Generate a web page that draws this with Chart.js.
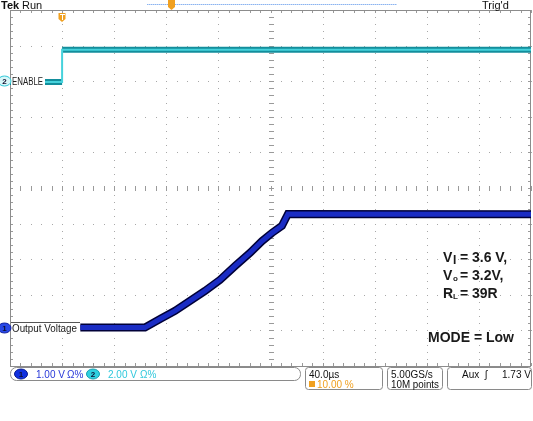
<!DOCTYPE html>
<html>
<head>
<meta charset="utf-8">
<script src="https://cdn.jsdelivr.net/npm/chart.js@4.4.0/dist/chart.umd.min.js"></script>
<style>
html,body{margin:0;padding:0;background:#fff;}
#wrap{width:533px;height:421px;}
</style>
</head>
<body>
<div id="wrap"><canvas id="scope" width="533" height="421"></canvas></div>
<script>
// time in µs, 40 µs/div, trigger at 10 %
var enableTime = [-40, 0, 0, 360];
var enableVolts = [-0.05, -0.05, 1.77, 1.77];

var outTime = [14, 63.6, 75.2, 86.7, 98.2, 109.7, 121.2, 132.8, 144.3, 153.5, 161.2, 168.8, 173.4, 360];
var outVolts = [0.08, 0.08, 0.32, 0.55, 0.83, 1.11, 1.42, 1.81, 2.18, 2.51, 2.74, 2.94, 3.27, 3.26];

var timeDivs = [-40, 0, 40, 80, 120, 160, 200, 240, 280, 320, 360];
var ch1Divs = [-1, 0, 1, 2, 3, 4, 5, 6, 7, 8, 9]; // 1.00 V/div
var ch2Range = [-16, 4];                          // 2.00 V/div

function toPoints(xs, ys){
  var pts = [];
  for(var i=0;i<xs.length;i++){ pts.push({x: xs[i], y: ys[i]}); }
  return pts;
}

function isVertical(ctx){
  return ctx.p0.parsed.x === ctx.p1.parsed.x;
}

var graticule = {
  id: 'graticule',
  beforeDatasetsDraw: function(chart){
    var ctx = chart.ctx, a = chart.chartArea;
    var xs = chart.scales.x, ys = chart.scales.y;
    ctx.save();
    ctx.fillStyle = '#a8a8a8';
    var xMin = timeDivs[0], xMax = timeDivs[timeDivs.length-1];
    var yMin = ch1Divs[0], yMax = ch1Divs[ch1Divs.length-1];
    var xc = xs.getPixelForValue(160), yc = ys.getPixelForValue(4);
    var t, v, px, py;
    // dotted vertical lines
    for(var i=1;i<timeDivs.length-1;i++){
      px = Math.round(xs.getPixelForValue(timeDivs[i]));
      for(v=yMin;v<=yMax+0.001;v+=0.2){
        py = Math.round(ys.getPixelForValue(v));
        ctx.fillRect(px, py, 1, 1);
      }
    }
    // dotted horizontal lines
    for(var j=1;j<ch1Divs.length-1;j++){
      py = Math.round(ys.getPixelForValue(ch1Divs[j]));
      for(t=xMin;t<=xMax+0.001;t+=8){
        px = Math.round(xs.getPixelForValue(t));
        ctx.fillRect(px, py, 1, 1);
      }
    }
    // ticks on center cross and border
    ctx.fillStyle = '#9a9a9a';
    for(v=yMin;v<=yMax+0.001;v+=0.2){
      py = Math.round(ys.getPixelForValue(v));
      ctx.fillRect(Math.round(xc)-2, py, 5, 1);
      ctx.fillRect(Math.round(a.left), py, 3, 1);
      ctx.fillRect(Math.round(a.right)-3, py, 3, 1);
    }
    for(t=xMin;t<=xMax+0.001;t+=8){
      px = Math.round(xs.getPixelForValue(t));
      ctx.fillRect(px, Math.round(yc)-2, 1, 5);
      ctx.fillRect(px, Math.round(a.top), 1, 3);
      ctx.fillRect(px, Math.round(a.bottom)-3, 1, 3);
    }
    ctx.strokeStyle = '#8c8c8c';
    ctx.lineWidth = 1;
    ctx.strokeRect(Math.round(a.left)+0.5, Math.round(a.top)+0.5, Math.round(a.right-a.left)-1, Math.round(a.bottom-a.top));
    ctx.restore();
  }
};

function roundBox(ctx, x, y, w, h, r){
  ctx.beginPath();
  ctx.moveTo(x+r, y);
  ctx.lineTo(x+w-r, y);
  ctx.arcTo(x+w, y, x+w, y+r, r);
  ctx.lineTo(x+w, y+h-r);
  ctx.arcTo(x+w, y+h, x+w-r, y+h, r);
  ctx.lineTo(x+r, y+h);
  ctx.arcTo(x, y+h, x, y+h-r, r);
  ctx.lineTo(x, y+r);
  ctx.arcTo(x, y, x+r, y, r);
  ctx.closePath();
  ctx.fillStyle = '#fff';
  ctx.fill();
  ctx.strokeStyle = '#8a8a8a';
  ctx.lineWidth = 1;
  ctx.stroke();
}

function badge(ctx, x, y, fill, stroke, txt){
  ctx.beginPath();
  ctx.ellipse(x, y, 6.5, 5, 0, 0, Math.PI*2);
  ctx.fillStyle = fill;
  ctx.fill();
  ctx.strokeStyle = stroke;
  ctx.lineWidth = 1;
  ctx.stroke();
  ctx.fillStyle = '#101030';
  ctx.font = 'bold 8px "Liberation Sans"';
  ctx.textAlign = 'center';
  ctx.textBaseline = 'middle';
  ctx.fillText(txt, x, y+0.5);
  ctx.textAlign = 'left';
  ctx.textBaseline = 'alphabetic';
}

var overlay = {
  id: 'overlay',
  afterDatasetsDraw: function(chart){
    var ctx = chart.ctx, a = chart.chartArea;
    var xs = chart.scales.x, y1 = chart.scales.y, y2 = chart.scales.y2;
    ctx.save();

    // trace labels
    var g2 = Math.round(y2.getPixelForValue(0));
    var g1 = Math.round(y1.getPixelForValue(0)) - 2;
    ctx.fillStyle = '#fff';
    ctx.fillRect(a.left+1, g2-6, 34, 12);
    ctx.fillRect(a.left+1, g1-6, 69, 12);
    ctx.fillStyle = '#555';
    ctx.fillRect(a.left+1, g1-6, 69, 1);
    ctx.fillStyle = '#202020';
    ctx.font = '10px "Liberation Sans"';
    ctx.fillText('ENABLE', a.left+2, g2+4, 31);
    ctx.fillText('Output Voltage', a.left+2, g1+4, 65);

    // channel ground markers
    badge(ctx, 4.5, g2, '#d8f6f8', '#30c8d8', '2');
    badge(ctx, 4.5, g1, '#2848e8', '#1020a0', '1');

    // trigger marker
    var tx = Math.round(xs.getPixelForValue(0));
    ctx.fillStyle = '#f0a020';
    ctx.beginPath();
    ctx.moveTo(tx-3.5, 13); ctx.lineTo(tx+3.5, 13); ctx.lineTo(tx+3.5, 19);
    ctx.lineTo(tx, 22); ctx.lineTo(tx-3.5, 19); ctx.closePath(); ctx.fill();
    ctx.fillStyle = '#fff';
    ctx.fillRect(tx-2, 14, 5, 1); ctx.fillRect(tx, 14, 1, 6);

    // annotation text
    ctx.fillStyle = '#1a1a1a';
    var big = 'bold 14px "Liberation Sans"', small = 'bold 8px "Liberation Sans"';
    ctx.font = big; ctx.fillText('V', 443, 262);
    ctx.font = 'bold 12px "Liberation Sans"'; ctx.fillText('I', 453, 264);
    ctx.font = big; ctx.fillText(' = 3.6 V,', 456, 262);
    ctx.font = big; ctx.fillText('V', 443, 280);
    ctx.font = small; ctx.fillText('o', 453, 281);
    ctx.font = big; ctx.fillText(' = 3.2V,', 456, 280);
    ctx.font = big; ctx.fillText('R', 443, 298);
    ctx.font = small; ctx.fillText('L', 453, 299);
    ctx.font = big; ctx.fillText(' = 39R', 456, 298);
    ctx.font = big; ctx.fillText('MODE = Low', 428, 342);
    ctx.restore();
  },
  afterDraw: function(chart){
    var ctx = chart.ctx;
    ctx.save();
    // header
    ctx.fillStyle = '#111';
    ctx.font = 'bold 11px "Liberation Sans"';
    ctx.fillText('Tek', 1, 9);
    ctx.font = '11px "Liberation Sans"';
    ctx.fillText('Run', 22, 9);
    ctx.fillText("Trig'd", 482, 9);
    ctx.fillStyle = '#8cb4f0';
    for(var x=147;x<397;x+=2){ ctx.fillRect(x, 4, 1.5, 1); }
    ctx.fillStyle = '#f0a020';
    ctx.fillRect(168, 0, 7, 7);
    ctx.beginPath(); ctx.moveTo(168, 7); ctx.lineTo(175, 7); ctx.lineTo(171.5, 10); ctx.closePath(); ctx.fill();

    // status bar
    roundBox(ctx, 10.5, 367.5, 290, 13, 6);
    roundBox(ctx, 305.5, 367.5, 77, 22, 3);
    roundBox(ctx, 387.5, 367.5, 55, 22, 3);
    roundBox(ctx, 447.5, 367.5, 84, 22, 3);

    badge(ctx, 21, 374, '#1030e0', '#0a1c90', '1');
    badge(ctx, 93, 374, '#30d0e0', '#18a0b0', '2');
    ctx.font = '10px "Liberation Sans"';
    ctx.fillStyle = '#2838d8';
    ctx.fillText('1.00 V', 36, 378);
    ctx.fillText('\u03a9%', 67, 378);
    ctx.fillStyle = '#30c8dc';
    ctx.fillText('2.00 V', 108, 378);
    ctx.fillText('\u03a9%', 140, 378);

    ctx.fillStyle = '#111';
    ctx.fillText('40.0\u00b5s', 309, 378);
    ctx.fillText('5.00GS/s', 391, 378);
    ctx.fillText('10M points', 391, 388, 48);
    ctx.fillText('Aux', 462, 378);
    ctx.fillText('\u0283', 485, 378);
    ctx.fillText('1.73 V', 502, 378);
    ctx.fillStyle = '#f0a020';
    ctx.fillRect(309, 381, 6, 6);
    ctx.fillText('10.00 %', 317, 388);
    ctx.restore();
  }
};

var ctx = document.getElementById('scope').getContext('2d');
var scopeChart = new Chart(ctx, {
  type: 'line',
  data: {
    datasets: [{
      label: 'ENABLE',
      data: toPoints(enableTime, enableVolts),
      yAxisID: 'y2',
      borderColor: '#138e9c',
      borderWidth: 6,
      pointRadius: 0,
      segment: {
        borderColor: function(c){ return isVertical(c) ? 'rgba(0,0,0,0)' : undefined; }
      },
      order: 4
    }, {
      label: 'ENABLE hi',
      data: toPoints(enableTime, enableVolts),
      yAxisID: 'y2',
      borderColor: '#46d2dc',
      borderWidth: 2,
      pointRadius: 0,
      order: 3
    }, {
      label: 'Output Voltage edge',
      data: toPoints(outTime, outVolts),
      yAxisID: 'y',
      borderColor: '#000038',
      borderWidth: 8,
      pointRadius: 0,
      order: 2
    }, {
      label: 'Output Voltage',
      data: toPoints(outTime, outVolts),
      yAxisID: 'y',
      borderColor: '#1a2cc4',
      borderWidth: 5,
      pointRadius: 0,
      order: 1
    }]
  },
  options: {
    responsive: false,
    animation: false,
    events: [],
    layout: { padding: { left: 10, top: 10, right: 2, bottom: 55 } },
    scales: {
      x: { type: 'linear', min: timeDivs[0], max: timeDivs[timeDivs.length-1], display: false },
      y: { min: ch1Divs[0], max: ch1Divs[ch1Divs.length-1], display: false },
      y2: { min: ch2Range[0], max: ch2Range[1], display: false }
    },
    plugins: { legend: { display: false }, tooltip: { enabled: false } }
  },
  plugins: [graticule, overlay]
});
</script>
</body>
</html>
